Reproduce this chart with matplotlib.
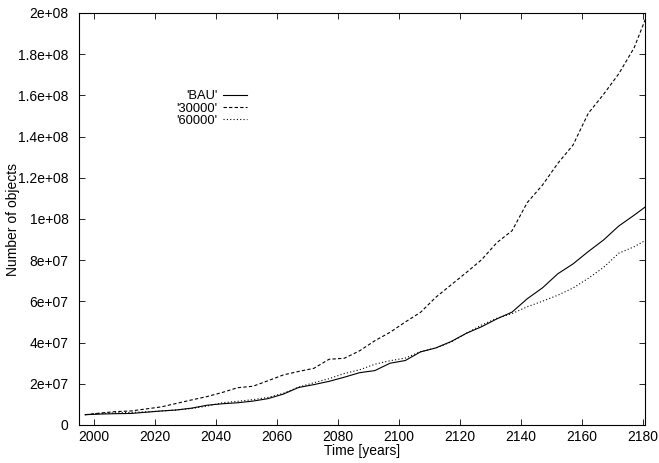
import matplotlib
matplotlib.use("Agg")
import matplotlib.pyplot as plt

plt.rcParams['font.family'] = ['Liberation Sans', 'DejaVu Sans']

years = [1997, 2002, 2007, 2012, 2017, 2022, 2027, 2032, 2037, 2042, 2047, 2052,
         2057, 2062, 2067, 2072, 2077, 2082, 2087, 2092, 2097, 2102, 2107, 2112,
         2117, 2122, 2127, 2132, 2137, 2142, 2147, 2152, 2157, 2162, 2167, 2172,
         2177, 2181]

bau = [5.0, 5.3, 5.5, 5.6, 6.2, 6.8, 7.3, 8.2, 9.6, 10.3, 10.8, 11.6,
       12.8, 15.0, 18.2, 19.6, 21.2, 23.2, 25.4, 26.4, 30.0, 31.3, 35.5, 37.4,
       40.5, 44.5, 47.7, 51.5, 54.8, 61.3, 66.6, 73.4, 78.2, 84.2, 89.8, 96.6,
       101.8, 106.2]

s30000 = [5.0, 5.8, 6.5, 6.8, 7.8, 8.8, 10.5, 12.2, 13.8, 15.8, 18.1, 18.8,
          21.5, 24.3, 26.0, 27.5, 31.9, 32.4, 36.0, 40.9, 45.0, 50.0, 54.7, 62.0,
          68.0, 74.0, 80.2, 88.5, 94.3, 108.0, 116.5, 127.0, 135.9, 151.3, 160.5, 170.5,
          183.0, 198.0]

s60000 = [5.0, 5.6, 5.9, 6.1, 6.4, 6.8, 7.3, 8.0, 9.2, 10.8, 11.5, 12.3,
          13.4, 15.4, 18.4, 20.5, 22.5, 25.0, 26.8, 29.5, 31.2, 32.5, 35.6, 37.4,
          40.3, 44.5, 48.5, 51.8, 54.1, 57.4, 60.1, 63.0, 66.5, 71.2, 76.5, 83.4,
          86.5, 89.8]

labels = ["'BAU'", "'30000'", "'60000'"]
xticks = list(range(2000, 2181, 20))
yticks = [0, 2e7, 4e7, 6e7, 8e7, 1e8, 1.2e8, 1.4e8, 1.6e8, 1.8e8, 2e8]
ytick_labels = ['0', '2e+07', '4e+07', '6e+07', '8e+07', '1e+08',
                '1.2e+08', '1.4e+08', '1.6e+08', '1.8e+08', '2e+08']

fig = plt.figure(figsize=(6.59, 4.63), dpi=100)
ax = fig.add_axes([79/659, 1-425/463, 566/659, 412/463])

m = 1e6
ax.plot(years, [v*m for v in bau], color='black', lw=0.8, label=labels[0])
ax.plot(years, [v*m for v in s30000], color='black', lw=0.8, dashes=(3, 2), label=labels[1])
ax.plot(years, [v*m for v in s60000], color='black', lw=0.8, dashes=(1, 2), label=labels[2])

ax.set_xlim(1995, 2180.6)
ax.set_ylim(0, 2e8)
ax.set_xticks(xticks)
ax.set_yticks(yticks)
ax.set_yticklabels(ytick_labels)
ax.tick_params(direction='in', length=4.5, width=0.6, top=True, right=True,
               labelsize=10)
ax.tick_params(axis='x', pad=3.5)
ax.tick_params(axis='y', pad=7.5)
for s in ax.spines.values():
    s.set_linewidth(0.8)

ax.set_xlabel('Time [years]', fontsize=10, labelpad=0)
ax.xaxis.set_label_coords(0.5, -0.047)
ax.set_ylabel('Number of objects', fontsize=10)
ax.yaxis.set_label_coords(-0.105, 0.5)

leg = ax.legend(loc='upper right', bbox_to_anchor=(0.297, 0.812), frameon=False,
                markerfirst=False, fontsize=9.3, handlelength=1.85, handletextpad=0.45,
                labelspacing=0.0, borderpad=0, borderaxespad=0)

fig.savefig('out.png', dpi=100)
